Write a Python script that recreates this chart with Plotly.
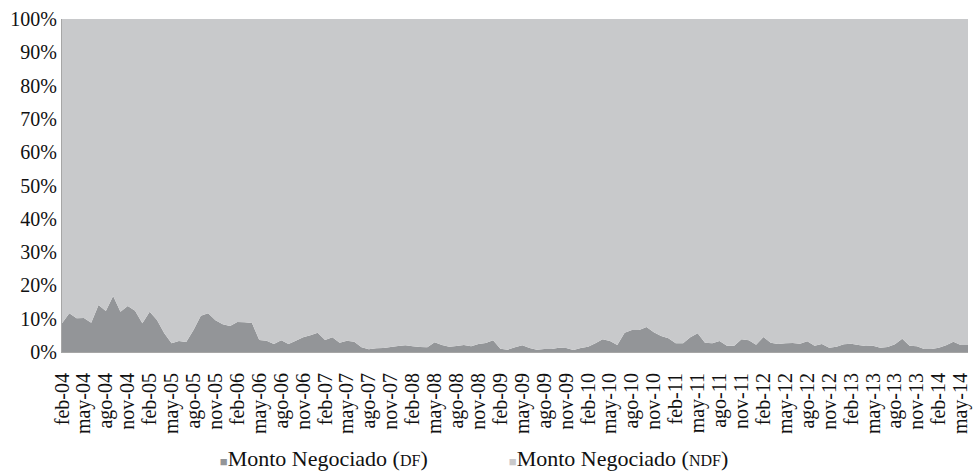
import plotly.graph_objects as go

meses = ["ene", "feb", "mar", "abr", "may", "jun", "jul", "ago", "sep", "oct", "nov", "dic"]

# Monthly categories feb-04 .. jun-14
months = []
for y in range(2004, 2015):
    for m in range(12):
        if (y == 2004 and m < 1) or (y == 2014 and m > 5):
            continue
        months.append(f"{meses[m]}-{str(y)[2:]}")

# Share of DF (%)
df_share = [
    8.6, 11.6, 10.1, 10.2, 8.8, 14.1, 12.3, 16.8, 12.1, 13.8,
    12.4, 8.6, 12.1, 9.6, 5.6, 2.6, 3.3, 3.0, 6.6, 10.9,
    11.6, 9.5, 8.3, 7.8, 9.0, 8.9, 8.7, 3.6, 3.4, 2.4,
    3.5, 2.4, 3.4, 4.4, 5.0, 5.8, 3.6, 4.4, 2.8, 3.4,
    3.1, 1.4, 0.8, 1.1, 1.2, 1.5, 1.8, 2.0, 1.7, 1.5,
    1.4, 2.9, 2.1, 1.6, 1.8, 2.1, 1.7, 2.4, 2.7, 3.5,
    1.0, 0.7, 1.4, 2.0, 1.2, 0.7, 0.9, 0.9, 1.3, 1.2,
    0.6, 1.2, 1.6, 2.6, 3.8, 3.3, 2.1, 5.8, 6.6, 6.6,
    7.5, 5.9, 4.8, 4.1, 2.6, 2.6, 4.4, 5.6, 2.8, 2.6,
    3.3, 1.9, 1.9, 3.8, 3.5, 2.2, 4.5, 2.8, 2.4, 2.6,
    2.7, 2.5, 3.2, 1.9, 2.4, 1.3, 1.6, 2.3, 2.5, 2.1,
    1.8, 1.9, 1.3, 1.5, 2.3, 4.0, 1.9, 1.7, 0.9, 0.9,
    1.3, 2.0, 3.1, 2.1, 2.1,
]
ndf_share = [100 - v for v in df_share]

tick_vals = months[::3]
y_ticks = list(range(0, 101, 10))
y_ticktext = [f"{v}%" for v in y_ticks]

series_labels = ["DF", "NDF"]
series_colors = ["#939598", "#c8c9cb"]

fig = go.Figure()
for vals, color in zip([df_share, ndf_share], series_colors):
    fig.add_trace(go.Scatter(
        x=months, y=vals, stackgroup="one", mode="none",
        fillcolor=color, showlegend=False,
    ))
# legend entries: square glyph + label with small-caps abbreviation
for lab, color in zip(series_labels, series_colors):
    name = (f"<span style='color:{color};font-size:13px'>■</span>"
            f"Monto Negociado (<span style='font-size:16px'>{lab}</span>)")
    fig.add_trace(go.Scatter(
        x=[None], y=[None], mode="markers", name=name,
        marker=dict(symbol="square", size=1, color="rgba(0,0,0,0)"),
    ))

font_family = "Liberation Serif"

fig.update_layout(
    width=975, height=471,
    margin=dict(l=62, r=7, t=19, b=119, autoexpand=False),
    paper_bgcolor="white", plot_bgcolor="white",
    font=dict(family=font_family, size=19, color="#111111"),
    showlegend=True,
    legend=dict(
        orientation="h", x=0.130, xanchor="left", y=-0.318, yanchor="middle",
        font=dict(family=font_family, size=22, color="#111111"),
        entrywidth=244, itemwidth=30, traceorder="normal",
    ),
    xaxis=dict(
        type="category", range=[0, len(months) - 1],
        tickmode="array", tickvals=tick_vals, ticktext=tick_vals,
        tickangle=-90, showgrid=False, zeroline=False,
        showline=True, linecolor="#a6a6a6", linewidth=1,
        ticks="", ticklabelstandoff=12, automargin=False,
        tickfont=dict(family=font_family, size=20),
    ),
    yaxis=dict(
        range=[0, 100], tickmode="array", tickvals=y_ticks, ticktext=y_ticktext,
        showgrid=False, zeroline=False, showline=True, linecolor="#a6a6a6",
        linewidth=1, ticks="", automargin=False,
        tickfont=dict(family=font_family, size=20),
    ),
)

fig.write_html(
    "out.html",
    config={"displayModeBar": False},
    post_script="document.body.style.margin='0';document.body.style.overflow='hidden';",
)
